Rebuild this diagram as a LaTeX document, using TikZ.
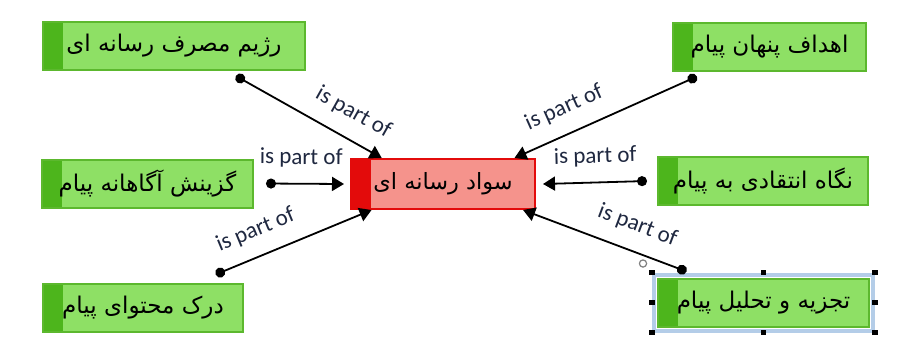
\documentclass[tikz,border=0pt]{standalone}
\usepackage{fontspec}
\setmainfont{Carlito}
\newfontfamily\farsi[Script=Arabic]{DejaVu Sans}
\TeXXeTstate=1
\usetikzlibrary{arrows.meta,fit}

\definecolor{leafgreen}{HTML}{8EE065}
\definecolor{stripgreen}{HTML}{4DB51C}
\definecolor{edgegreen}{HTML}{5CB82E}
\definecolor{coresalmon}{HTML}{F5938C}
\definecolor{corered}{HTML}{E30B0B}
\definecolor{selblue}{HTML}{B4CDE8}
\definecolor{labelink}{HTML}{1F2840}

\newcommand{\fa}[1]{{\farsi\beginR #1\endR}}

\begin{document}
\begin{tikzpicture}[x=0.5pt,y=-0.5pt,
	leaf/.style = {draw=edgegreen, line width=1pt, fill=leafgreen, minimum width=#1, minimum height=24pt, inner sep=0pt,
		font=\fontsize{11.5}{14}\selectfont,
		path picture={\fill[stripgreen] (path picture bounding box.south west) rectangle ([xshift=10pt]path picture bounding box.north west);}},
	core/.style = {draw=corered, line width=1pt, fill=coresalmon, minimum width=92pt, minimum height=25pt, inner sep=0pt,
		font=\fontsize{11.2}{14}\selectfont,
		path picture={\fill[corered] (path picture bounding box.south west) rectangle ([xshift=10pt]path picture bounding box.north west);}},
	link/.style = {line width=0.9pt, {Circle[length=5pt]}-{Triangle[length=6pt,width=7pt]}},
	lbl/.style = {sloped, above=7.5pt, inner sep=0pt, text=labelink, font=\fontsize{11.5}{13}\selectfont}]
		\useasboundingbox[fill=white] (0,0) rectangle (897,349);
		% Laatikot
		\node[core] (savad) at (443,184) {\fa{سواد رسانه ای}};
		\node[leaf=131pt] (ruzhim) at (174,46) {\fa{رژیم مصرف رسانه ای}};
		\node[leaf=105.5pt] (gozinesh) at (147.5,183.5) {\fa{گزینش آگاهانه پیام}};
		\node[leaf=100pt] (dark) at (143,307.5) {\fa{درک محتوای پیام}};
		\node[leaf=96.5pt] (ahdaf) at (769.5,46.5) {\fa{اهداف پنهان پیام}};
		\node[leaf=105pt] (negah) at (763,181) {\fa{نگاه انتقادی به پیام}};
		\node[leaf=105.5pt] (tajzie) at (763.5,302.5) {\fa{تجزیه و تحلیل پیام}};
		% Valinta
		\node[draw=selblue, line width=2pt, inner sep=1.5pt, fit=(tajzie)] (sel) {};
		\foreach \a in {north west,north,north east,east,south east,south,south west,west}
			\fill[black] (sel.\a) +(-1.4pt,-1.4pt) rectangle +(1.4pt,1.4pt);
		\filldraw[draw=gray, fill=white, line width=0.6pt] ([shift={(-4.5pt,4.5pt)}]sel.north west) circle (1.8pt);
		% Nuolet
		\draw[link] ([yshift=-2.5pt]ruzhim.-22) -- node[lbl, pos=0.72] {is part of} (savad.157);		% ruzhim
		\draw[link] ([xshift=6pt]gozinesh.east) -- node[lbl, pos=0.45] {is part of} ([xshift=-3pt]savad.west);	% gozinesh
		\draw[link] ([yshift=4pt]dark.19) -- node[lbl, pos=0.32] {is part of} (savad.200);		% dark
		\draw[link] ([yshift=-2.5pt]ahdaf.199) -- node[lbl, pos=0.67] {is part of} (savad.20);		% ahdaf
		\draw[link] ([xshift=-5pt]negah.west) -- node[lbl, pos=0.49] {is part of} ([xshift=3.5pt]savad.east);	% negah
		\draw[link] ([yshift=3pt]tajzie.162) -- node[lbl, pos=0.355] {is part of} (savad.-18);		% tajzie
\end{tikzpicture}
\end{document}
